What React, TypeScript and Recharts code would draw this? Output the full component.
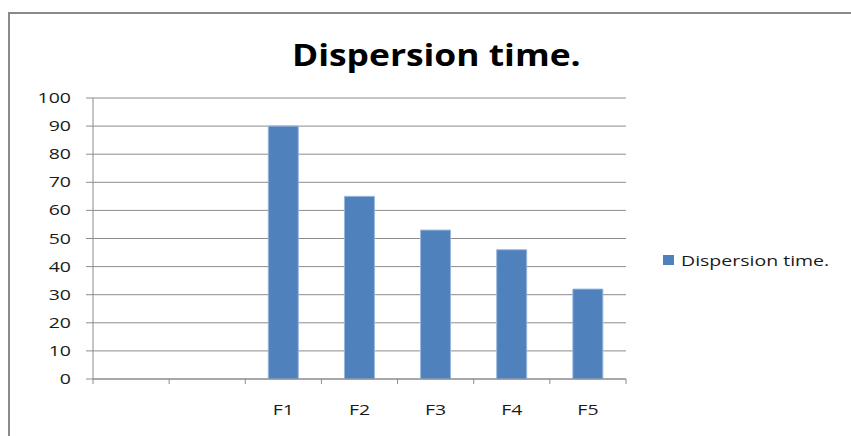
import { BarChart, Bar, XAxis, YAxis, CartesianGrid, Legend } from "recharts";

const categories = ["", "", "F1", "F2", "F3", "F4", "F5"];
const dispersionTime = [null, null, 90, 65, 53, 46, 32];
const yTicks = [0, 10, 20, 30, 40, 50, 60, 70, 80, 90, 100];

const seriesName = "Dispersion time.";
const barColor = "#4F81BD";
const gridColor = "#8c8c8c";
const font = "'Open Sans', sans-serif";

const data = categories.map((name, i) => ({ name, value: dispersionTime[i] }));

// text in the source looks horizontally stretched
const STRETCH = 1.3;

function XTick(props: any) {
    const { x, y, payload, index, visibleTicksCount } = props;
    const half = payload?.offset ?? 0;
    const isLast = index === visibleTicksCount - 1;
    return (
        <g>
            <line x1={x - half} x2={x - half} y1={y} y2={y + 5} stroke={gridColor} />
            {isLast && <line x1={x + half} x2={x + half} y1={y} y2={y + 5} stroke={gridColor} />}
            <text
                transform={`translate(${x},${y + 36}) scale(${STRETCH},1)`}
                textAnchor="middle"
                fontSize={15}
                fontFamily={font}
                fill="#1a1a1a"
            >
                {payload.value}
            </text>
        </g>
    );
}

function YTick(props: any) {
    const { x, y, payload } = props;
    return (
        <text
            transform={`translate(${x},${y + 5}) scale(${STRETCH},1)`}
            textAnchor="end"
            fontSize={15}
            fontFamily={font}
            fill="#1a1a1a"
        >
            {payload.value}
        </text>
    );
}

function LegendBox() {
    return (
        <div style={{ display: "flex", alignItems: "center", fontFamily: font, fontSize: 15, color: "#1a1a1a", whiteSpace: "nowrap" }}>
            <div style={{ width: 11, height: 10, background: barColor, marginRight: 7 }} />
            <span style={{ display: "inline-block", transform: `scaleX(${STRETCH})`, transformOrigin: "left center" }}>{seriesName}</span>
        </div>
    );
}

export default function App() {
    return (
        <div style={{ position: "fixed", left: 0, top: 0, width: 851, height: 436, overflow: "hidden", background: "#fff" }}>
            <div
                style={{
                    position: "absolute",
                    left: 8,
                    top: 12,
                    width: 900,
                    height: 500,
                    borderLeft: "2px solid #8a8a8a",
                    borderTop: "2px solid #8a8a8a",
                }}
            />
            <div
                style={{
                    position: "absolute",
                    left: 0,
                    top: 35,
                    width: 873,
                    textAlign: "center",
                    fontFamily: font,
                    fontWeight: 700,
                    fontSize: 30,
                    lineHeight: "40px",
                    color: "#000",
                }}
            >
                <span style={{ display: "inline-block", transform: "scaleX(1.18)" }}>{seriesName}</span>
            </div>
            <BarChart
                width={851}
                height={436}
                data={data}
                margin={{ top: 98, right: 225, left: 0, bottom: 0 }}
                barCategoryGap="30%"
            >
                <CartesianGrid horizontal vertical={false} stroke={gridColor} />
                <XAxis
                    dataKey="name"
                    height={57}
                    axisLine={{ stroke: gridColor }}
                    tickLine={false}
                    tickSize={0}
                    tickMargin={0}
                    interval={0}
                    tick={<XTick />}
                />
                <YAxis
                    width={93}
                    domain={[0, 100]}
                    ticks={yTicks}
                    interval={0}
                    axisLine={{ stroke: gridColor }}
                    tickLine={{ stroke: gridColor }}
                    tickSize={7}
                    tickMargin={15}
                    tick={<YTick />}
                />
                <Legend
                    layout="vertical"
                    align="center"
                    verticalAlign="middle"
                    wrapperStyle={{ left: 663, top: 250, width: "auto" }}
                    content={<LegendBox />}
                />
                <Bar
                    dataKey="value"
                    name={seriesName}
                    fill={barColor}
                    stroke="#9ab8de"
                    strokeWidth={1}
                    barSize={30}
                    isAnimationActive={false}
                />
            </BarChart>
        </div>
    );
}
